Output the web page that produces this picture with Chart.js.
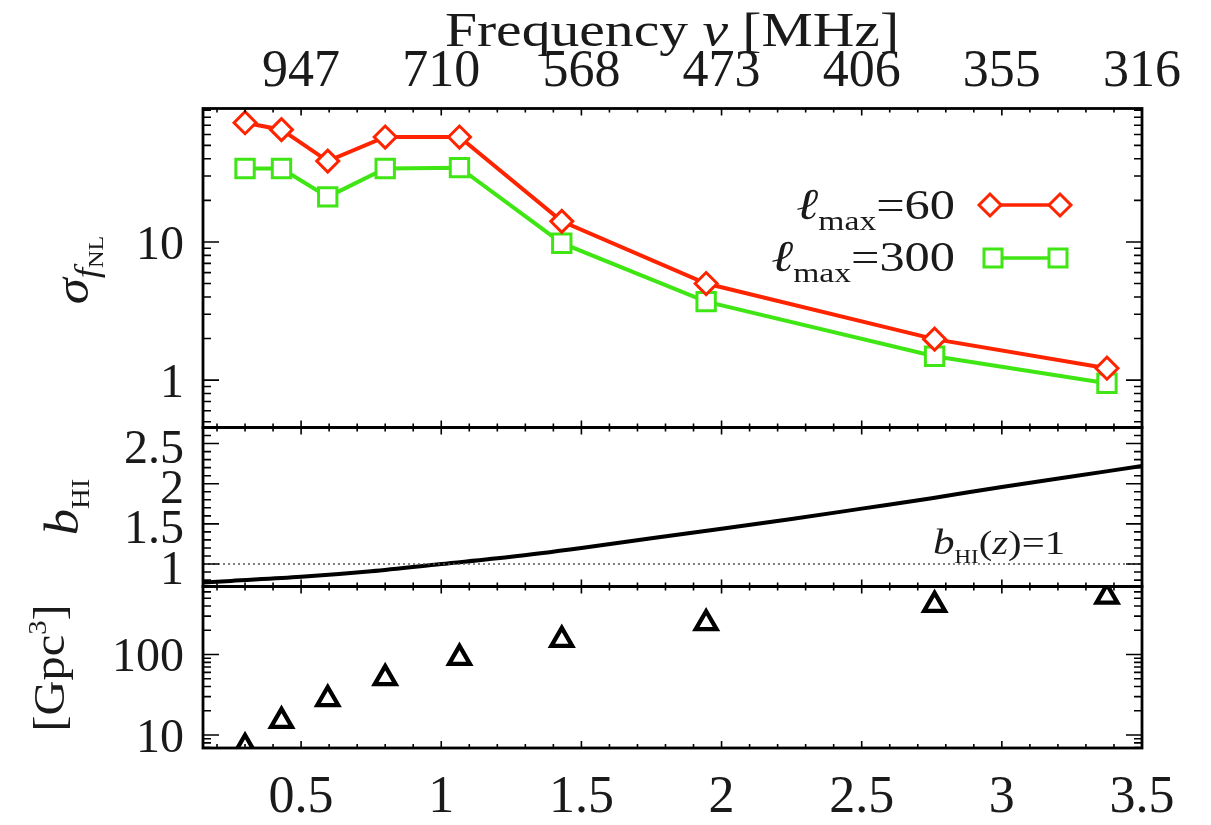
<!DOCTYPE html>
<html>
<head>
<meta charset="utf-8">
<script src="https://cdn.jsdelivr.net/npm/chart.js@4.4.1/dist/chart.umd.min.js"></script>
<style>
  html, body { margin: 0; padding: 0; background: #ffffff; }
  #wrap { position: relative; width: 1211px; height: 825px; }
</style>
</head>
<body>
<div id="wrap"><canvas id="chart" width="1211" height="825"></canvas></div>
<script>
// Redshift bins (bottom axis) and the matching observed frequency labels (top axis)
const redshift = [0.30, 0.43, 0.595, 0.80, 1.065, 1.43, 1.945, 2.76, 3.375];
const sigmaLmax60 = [73, 65, 38.5, 57.5, 57.5, 14.1, 5.0, 1.98, 1.22];
const sigmaLmax300 = [34, 34, 21.2, 34, 34.5, 9.8, 3.7, 1.49, 0.95];
const shellVolume = [7.1, 15.0, 28, 51, 91, 152, 245, 414, 525];

// HI bias sampled along redshift
const biasRedshift = [0.15, 0.25, 0.5, 0.75, 1.0, 1.25, 1.5, 1.75, 2.0, 2.25, 2.5, 2.75, 3.0, 3.25, 3.5];
const biasHI = [0.77, 0.79, 0.84, 0.91, 1.00, 1.09, 1.20, 1.32, 1.44, 1.56, 1.69, 1.82, 1.96, 2.09, 2.22];
const biasUnityZ = [0.15, 3.5];
const biasUnity = [1, 1];

// Tick values and labels
const redshiftTicks = [0.5, 1, 1.5, 2, 2.5, 3, 3.5];
const frequencyLabels = ['947', '710', '568', '473', '406', '355', '316'];
const sigmaTicks = [1, 10];
const biasTicks = [1, 1.5, 2, 2.5];
const volumeTicks = [10, 100];

const SERIF = "'Liberation Serif', 'DejaVu Serif', serif";
const RED = '#ff2400';
const GREEN = '#3fe614';
const INK = '#1a1a1a';

const pts = (xs, ys) => xs.map((x, i) => ({ x: x, y: ys[i] }));
const fixedTicks = (vals) => (scale) => { scale.ticks = vals.map(v => ({ value: v })); };

// Draws a run of text pieces (text, font, vertical shift) as one line
function richText(ctx, parts, x, y, align, sx) {
  let w = 0;
  parts.forEach(p => { ctx.font = p[1]; w += ctx.measureText(p[0]).width; });
  ctx.save();
  ctx.translate(x, y);
  ctx.scale(sx, 1);
  let cx = align === 'center' ? -w / 2 : (align === 'right' ? -w : 0);
  ctx.textAlign = 'left';
  ctx.textBaseline = 'alphabetic';
  parts.forEach(p => {
    ctx.font = p[1];
    ctx.fillText(p[0], cx, p[2] || 0);
    cx += ctx.measureText(p[0]).width;
  });
  ctx.restore();
}

function diamond(ctx, x, y, r) {
  ctx.beginPath();
  ctx.moveTo(x - r, y); ctx.lineTo(x, y - r); ctx.lineTo(x + r, y); ctx.lineTo(x, y + r);
  ctx.closePath(); ctx.fill(); ctx.stroke();
}
function square(ctx, x, y, h) {
  ctx.beginPath(); ctx.rect(x - h, y - h, 2 * h, 2 * h); ctx.fill(); ctx.stroke();
}

// Frames with inward ticks on every side of each panel, plus titles, legend and note
const panelFrames = {
  id: 'panelFrames',
  afterDatasetsDraw(chart) {
    const ctx = chart.ctx;
    const x = chart.scales.x;
    const L = chart.chartArea.left, R = chart.chartArea.right;
    const panels = [chart.scales.ySigma, chart.scales.yBias, chart.scales.yVol];
    ctx.save();
    ctx.strokeStyle = '#000';
    ctx.lineWidth = 1.6;
    panels.forEach(s => {
      const T = s.top, B = s.bottom;
      for (let i = 2; i <= 35; i++) {
        const px = x.getPixelForValue(i / 10);
        const len = i % 5 === 0 ? 7 : 4;
        ctx.beginPath();
        ctx.moveTo(px, B); ctx.lineTo(px, B - len);
        ctx.moveTo(px, T); ctx.lineTo(px, T + len);
        ctx.stroke();
      }
      const marks = [];
      if (s.type === 'logarithmic') {
        const e0 = Math.floor(Math.log10(s.min)), e1 = Math.ceil(Math.log10(s.max));
        for (let e = e0; e <= e1; e++) {
          for (let k = 1; k <= 9; k++) {
            const v = k * Math.pow(10, e);
            if (v >= s.min && v <= s.max) marks.push([v, k === 1]);
          }
        }
      } else {
        for (let i = Math.ceil(s.min * 10); i <= Math.floor(s.max * 10); i++) {
          marks.push([i / 10, i % 5 === 0]);
        }
      }
      marks.forEach(m => {
        const py = s.getPixelForValue(m[0]);
        const len = m[1] ? 16 : 8;
        ctx.beginPath();
        ctx.moveTo(L, py); ctx.lineTo(L + len, py);
        ctx.moveTo(R, py); ctx.lineTo(R - len, py);
        ctx.stroke();
      });
    });
    ctx.lineWidth = 2.8;
    panels.forEach(s => ctx.strokeRect(L, s.top, R - L, s.bottom - s.top));
    ctx.restore();
  },
  afterDraw(chart) {
    const ctx = chart.ctx;
    ctx.save();
    ctx.fillStyle = INK;
    richText(ctx, [['Frequency ', `48px ${SERIF}`], ['\u03bd', `italic 48px ${SERIF}`], [' [MHz]', `48px ${SERIF}`]],
      672, 46, 'center', 1.2);

    const rot = (cx, cy, parts) => {
      ctx.save(); ctx.translate(cx, cy); ctx.rotate(-Math.PI / 2);
      richText(ctx, parts, 0, 0, 'center', 1.1);
      ctx.restore();
    };
    rot(88, 270, [['\u03c3', `italic 48px ${SERIF}`], ['f', `italic 34px ${SERIF}`, 10], ['NL', `22px ${SERIF}`, 15]]);
    rot(78, 507, [['b', `italic 48px ${SERIF}`], ['HI', `26px ${SERIF}`, 11]]);
    rot(64, 668, [['[Gpc', `44px ${SERIF}`], ['3', `26px ${SERIF}`, -18], [']', `44px ${SERIF}`]]);

    richText(ctx, [['\u2113', `italic 44px ${SERIF}`], ['max', `28px ${SERIF}`, 11], ['=60', `42px ${SERIF}`]],
      955, 219, 'right', 1.2);
    richText(ctx, [['\u2113', `italic 44px ${SERIF}`], ['max', `28px ${SERIF}`, 11], ['=300', `42px ${SERIF}`]],
      955, 271, 'right', 1.2);
    ctx.lineWidth = 3.5;
    ctx.strokeStyle = RED; ctx.fillStyle = '#fff';
    ctx.beginPath(); ctx.moveTo(990, 205); ctx.lineTo(1060, 205); ctx.stroke();
    ctx.lineWidth = 3;
    diamond(ctx, 990, 205, 11); diamond(ctx, 1060, 205, 11);
    ctx.lineWidth = 3.5;
    ctx.strokeStyle = GREEN;
    ctx.beginPath(); ctx.moveTo(993, 258); ctx.lineTo(1058, 258); ctx.stroke();
    ctx.lineWidth = 3;
    square(ctx, 993, 258, 9); square(ctx, 1058, 258, 9);

    ctx.fillStyle = INK;
    richText(ctx, [['b', `italic 36px ${SERIF}`], ['HI', `19px ${SERIF}`, 9], ['(', `34px ${SERIF}`], ['z', `italic 34px ${SERIF}`], [')=1', `34px ${SERIF}`]],
      933, 554, 'left', 1.2);
    ctx.restore();
  }
};

const tickFont = (size) => ({ family: SERIF, size: size });

new Chart(document.getElementById('chart'), {
  type: 'line',
  data: {
    datasets: [
      {
        label: 'lmax=60', data: pts(redshift, sigmaLmax60), yAxisID: 'ySigma',
        borderColor: RED, borderWidth: 4, pointStyle: 'rectRot', pointRadius: 11,
        pointBorderWidth: 3, pointBackgroundColor: '#fff', pointBorderColor: RED
      },
      {
        label: 'lmax=300', data: pts(redshift, sigmaLmax300), yAxisID: 'ySigma',
        borderColor: GREEN, borderWidth: 4, pointStyle: 'rect', pointRadius: 13,
        pointBorderWidth: 3, pointBackgroundColor: '#fff', pointBorderColor: GREEN
      },
      {
        label: 'b=1', data: pts(biasUnityZ, biasUnity), yAxisID: 'yBias',
        borderColor: '#555', borderWidth: 1.3, borderDash: [2, 3], pointRadius: 0
      },
      {
        label: 'bHI', data: pts(biasRedshift, biasHI), yAxisID: 'yBias',
        borderColor: '#000', borderWidth: 4, pointRadius: 0, cubicInterpolationMode: 'monotone'
      },
      {
        label: 'volume', data: pts(redshift, shellVolume), yAxisID: 'yVol', showLine: false,
        pointStyle: 'triangle', pointRadius: 12, pointBorderWidth: 4.3,
        pointBorderColor: '#000', pointBackgroundColor: 'rgba(0,0,0,0)'
      }
    ]
  },
  options: {
    responsive: false,
    animation: false,
    devicePixelRatio: 1,
    layout: { padding: { left: 0, right: 69, top: 0, bottom: 0 } },
    plugins: { legend: { display: false }, tooltip: { enabled: false } },
    scales: {
      x: {
        type: 'linear', position: 'bottom', min: 0.15, max: 3.5,
        grid: { display: false, drawTicks: false }, border: { display: false },
        afterBuildTicks: fixedTicks(redshiftTicks),
        afterFit: (s) => { s.height = 77; },
        ticks: { font: tickFont(52), color: INK, padding: 19, maxRotation: 0, autoSkip: false,
          callback: (v) => String(v) }
      },
      xTop: {
        type: 'linear', position: 'top', min: 0.15, max: 3.5,
        grid: { display: false, drawTicks: false }, border: { display: false },
        afterBuildTicks: fixedTicks(redshiftTicks),
        afterFit: (s) => { s.height = 108.5; },
        ticks: { font: tickFont(52), color: INK, padding: 5, maxRotation: 0, autoSkip: false,
          callback: (v, i) => frequencyLabels[i] }
      },
      ySigma: {
        type: 'logarithmic', position: 'left', stack: 'panels', stackWeight: 319, weight: 3,
        min: 0.454, max: 92.5,
        grid: { display: false, drawTicks: false }, border: { display: false },
        afterBuildTicks: fixedTicks(sigmaTicks),
        afterFit: (s) => { s.width = 203; },
        ticks: { font: tickFont(48), color: INK, padding: 19, labelOffset: 4, autoSkip: false,
          callback: (v) => String(v) }
      },
      yBias: {
        type: 'linear', position: 'left', stack: 'panels', stackWeight: 159, weight: 2,
        min: 0.72, max: 2.7,
        grid: { display: false, drawTicks: false }, border: { display: false },
        afterBuildTicks: fixedTicks(biasTicks),
        afterFit: (s) => { s.width = 203; },
        ticks: { font: tickFont(48), color: INK, padding: 19, labelOffset: 7, autoSkip: false,
          callback: (v) => String(v) }
      },
      yVol: {
        type: 'logarithmic', position: 'left', stack: 'panels', stackWeight: 161.5, weight: 1,
        min: 6.9, max: 700,
        grid: { display: false, drawTicks: false }, border: { display: false },
        afterBuildTicks: fixedTicks(volumeTicks),
        afterFit: (s) => { s.width = 203; },
        ticks: { font: tickFont(48), color: INK, padding: 19, labelOffset: 4, autoSkip: false,
          callback: (v) => String(v) }
      }
    }
  },
  plugins: [panelFrames]
});
</script>
</body>
</html>
